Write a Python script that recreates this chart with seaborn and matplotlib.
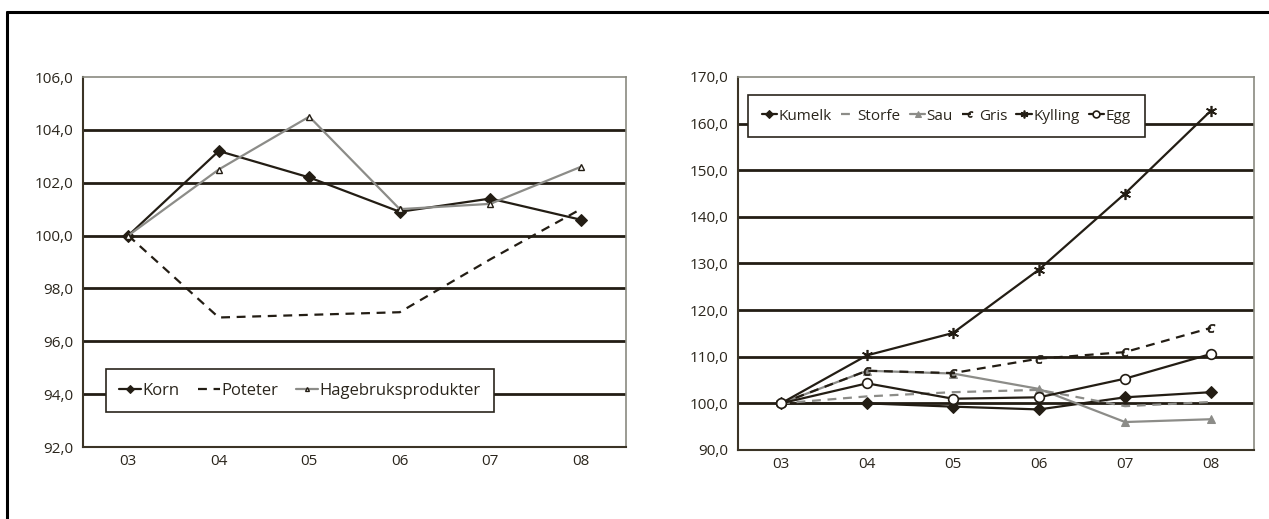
import pandas as pd
import seaborn as sns
import matplotlib.pyplot as plt
from matplotlib.lines import Line2D

years = ['03', '04', '05', '06', '07', '08']

# venstre figur
korn = [100.0, 103.2, 102.2, 100.9, 101.4, 100.6]
poteter = [100.0, 96.9, 97.0, 97.1, 99.1, 101.0]
hagebruk = [100.0, 102.5, 104.5, 101.0, 101.2, 102.6]

# hoyre figur
kumelk = [100.0, 100.0, 99.3, 98.7, 101.3, 102.4]
storfe = [100.0, 101.5, 102.4, 102.9, 99.4, 100.3]
sau = [100.0, 107.0, 106.4, 103.1, 96.0, 96.6]
gris = [100.0, 107.0, 106.5, 109.6, 111.0, 116.2]
kylling = [100.0, 110.3, 115.1, 128.7, 145.0, 162.8]
egg = [100.0, 104.3, 101.0, 101.3, 105.3, 110.6]

left_ticks = [92, 94, 96, 98, 100, 102, 104, 106]
right_ticks = [90, 100, 110, 120, 130, 140, 150, 160, 170]

DARK = '#231d14'
GREY = '#8c8c88'
FRAME = '#8a8a80'

sns.set_style('white')
plt.rcParams['font.family'] = ['Open Sans', 'DejaVu Sans']
plt.rcParams['font.size'] = 11

fig = plt.figure(figsize=(12.69, 5.19), dpi=100)
ax1 = fig.add_axes([83 / 1269, 1 - 447 / 519, 543 / 1269, 370 / 519])
ax2 = fig.add_axes([738 / 1269, 1 - 450 / 519, 516 / 1269, 373 / 519])

x = list(range(len(years)))


def draw(ax, y, label, color, ls='-', **kw):
    df = pd.DataFrame({'aar': x, 'verdi': y})
    sns.lineplot(data=df, x='aar', y='verdi', ax=ax, color=color, linestyle=ls,
                 linewidth=1.6, label=label, clip_on=False, **kw)


def style(ax, ticks):
    ax.set_xlim(-0.5, len(years) - 0.5)
    ax.set_ylim(ticks[0], ticks[-1])
    ax.set_yticks(ticks)
    ax.set_yticklabels([f'{t:.1f}'.replace('.', ',') for t in ticks])
    ax.set_xticks(x)
    ax.set_xticklabels(years)
    ax.set_xticks([i - 0.5 for i in range(len(years) + 1)], minor=True)
    ax.tick_params(axis='x', which='major', length=0, pad=5, labelsize=11, colors='#2a251c')
    ax.tick_params(axis='x', which='minor', length=4, width=1, color='#3b3426', direction='out')
    ax.tick_params(axis='y', length=4, width=1, color='#3b3426', direction='out', pad=3,
                   labelsize=11, labelcolor='#2a251c')
    ax.set_xlabel('')
    ax.set_ylabel('')
    for t in ticks[1:-1]:
        ax.axhline(t, color=DARK, lw=2, zorder=0.5)
    for s in ['left', 'bottom']:
        ax.spines[s].set_color('#3b3426')
        ax.spines[s].set_linewidth(1.5)
    for s in ['top', 'right']:
        ax.spines[s].set_color(FRAME)
        ax.spines[s].set_linewidth(1.2)


draw(ax1, korn, 'Korn', DARK, marker='D', markersize=6, markeredgecolor=DARK)
draw(ax1, poteter, 'Poteter', DARK, ls=(0, (4, 3)))
draw(ax1, hagebruk, 'Hagebruksprodukter', GREY, marker='^', markersize=4,
     markerfacecolor='white', markeredgecolor=DARK, markeredgewidth=1)
style(ax1, left_ticks)

draw(ax2, kumelk, 'Kumelk', DARK, marker='D', markersize=6, markeredgecolor=DARK)
draw(ax2, storfe, 'Storfe', GREY, ls=(0, (4, 3)))
draw(ax2, sau, 'Sau', GREY, marker='^', markersize=6, markeredgecolor=GREY)
draw(ax2, gris, 'Gris', DARK, ls=(0, (4, 3)), marker='$c$', markersize=6,
     markeredgecolor=DARK, markeredgewidth=0.5)
draw(ax2, kylling, 'Kylling', DARK, marker=(6, 2, 0), markersize=8,
     markeredgecolor=DARK, markeredgewidth=1.2)
draw(ax2, egg, 'Egg', DARK, marker='o', markersize=7, markerfacecolor='white',
     markeredgecolor=DARK, markeredgewidth=1.2)
style(ax2, right_ticks)

legend_kw = dict(frameon=True, fancybox=False, framealpha=1, edgecolor='#2a251c',
                 handletextpad=0.1, borderaxespad=0, markerscale=0.7)
leg1 = ax1.legend(ncol=3, loc='lower left', bbox_to_anchor=(0.042, 0.095), fontsize=12,
                  handlelength=1.3, columnspacing=1.1, borderpad=0.8, **legend_kw)
leg2 = ax2.legend(ncol=6, loc='upper left', bbox_to_anchor=(0.019, 0.952), fontsize=11,
                  handlelength=1.0, columnspacing=0.6, borderpad=0.9, **legend_kw)
for leg in (leg1, leg2):
    leg.get_frame().set_linewidth(1.2)
    for t in leg.get_texts():
        t.set_color('#2a251c')

# ramme rundt hele figuren
fig.add_artist(Line2D([7 / 1269, 7 / 1269], [0, 1 - 12 / 519], color='black', lw=2.2))
fig.add_artist(Line2D([7 / 1269, 1], [1 - 12 / 519, 1 - 12 / 519], color='black', lw=2.2))

fig.savefig('out.png', dpi=100)
